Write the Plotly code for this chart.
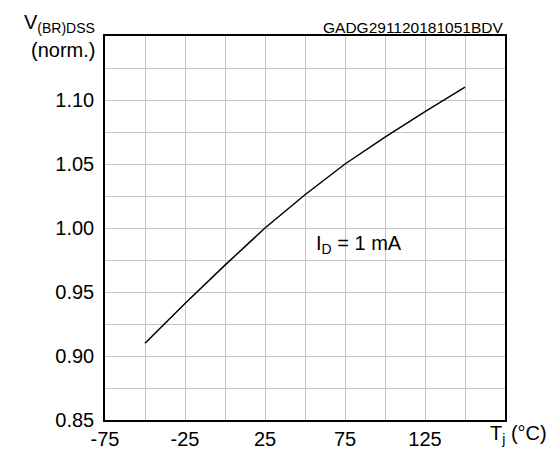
import plotly.graph_objects as go

# Data
tj = [-50, -25, 0, 25, 50, 75, 100, 125, 150]
v_norm = [0.910, 0.941, 0.971, 1.000, 1.026, 1.050, 1.071, 1.091, 1.110]

x_tickvals = [-75, -50, -25, 0, 25, 50, 75, 100, 125, 150, 175]
x_ticktext = ["-75", "", "-25", "", "25", "", "75", "", "125", "", ""]
y_tickvals = [0.85, 0.875, 0.90, 0.925, 0.95, 0.975, 1.00, 1.025, 1.05, 1.075, 1.10, 1.125, 1.15]
y_ticktext = ["0.85", "", "0.90", "", "0.95", "", "1.00", "", "1.05", "", "1.10", "", ""]

FONT = "Arial, Liberation Sans, sans-serif"
L, R, T, B = 97, 58, 28, 26
W, H = 555, 454
PW, PH = W - L - R, H - T - B

def px(xp):
    return (xp - L) / PW

def py(yp):
    return (H - B - yp) / PH

fig = go.Figure()
fig.add_trace(go.Scatter(x=tj, y=v_norm, mode="lines",
                         line=dict(color="black", width=1.5),
                         showlegend=False, hoverinfo="skip"))

fig.update_layout(
    width=W, height=H,
    margin=dict(l=L, r=R, t=T, b=B, pad=0),
    paper_bgcolor="white", plot_bgcolor="white",
    font=dict(family=FONT, size=20, color="black"),
    xaxis=dict(range=[-75, 175], tickmode="array", tickvals=x_tickvals, ticktext=x_ticktext,
               showgrid=True, gridcolor="#c4c4c4", gridwidth=1, zeroline=False,
               showline=True, linecolor="black", linewidth=1.5, mirror=True,
               ticks="", ticklen=0, tickfont=dict(size=20)),
    yaxis=dict(range=[0.85, 1.15], tickmode="array", tickvals=y_tickvals, ticktext=y_ticktext,
               showgrid=True, gridcolor="#c4c4c4", gridwidth=1, zeroline=False,
               showline=True, linecolor="black", linewidth=1.5, mirror=True,
               ticks="", ticklen=0, tickfont=dict(size=20), ticklabelstandoff=5),
    annotations=[
        dict(text="GADG291120181051BDV", xref="paper", yref="paper", x=1.0, y=py(30),
             xanchor="right", yanchor="bottom", showarrow=False, font=dict(size=15.5)),
        dict(text="V<sub>(BR)DSS</sub>", xref="paper", yref="paper", x=px(89), y=py(30),
             xanchor="right", yanchor="bottom", showarrow=False, font=dict(size=20)),
        dict(text="(norm.)", xref="paper", yref="paper", x=px(89), y=py(56),
             xanchor="right", yanchor="bottom", showarrow=False, font=dict(size=20)),
        dict(text="T<sub>j</sub> (°C)", xref="paper", yref="paper", x=px(480), y=py(428),
             xanchor="left", yanchor="top", showarrow=False, font=dict(size=20)),
        dict(text="I<sub>D</sub> = 1 mA", xref="paper", yref="paper", x=px(306), y=py(245),
             xanchor="left", yanchor="middle", showarrow=False, font=dict(size=20)),
    ],
)

fig.write_html("out.html")
